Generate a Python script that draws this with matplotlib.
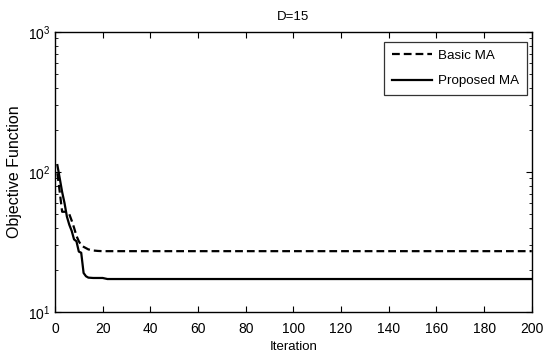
import matplotlib
matplotlib.use("Agg")
import matplotlib.pyplot as plt
import numpy as np

# Convergence curves (iteration, objective value) at the visible breakpoints
basic_iter = [1, 2, 3, 4, 5, 6, 7, 8, 9, 10, 11, 12, 13, 14, 16, 18, 20, 200]
basic_obj = [98, 72, 52, 52, 52, 50, 45, 40, 35, 32, 30, 29.2, 28.6, 28.0, 27.5, 27.3, 27.2, 27.2]

proposed_iter = [1, 2, 3, 4, 5, 6, 7, 8, 9, 10, 11, 12, 13, 14, 16, 20, 22, 200]
proposed_obj = [112, 90, 72, 60, 48, 42, 38, 33, 32, 27, 26.5, 19, 18, 17.6, 17.5, 17.5, 17.2, 17.2]

xticks = [0, 20, 40, 60, 80, 100, 120, 140, 160, 180, 200]

plt.rcParams["font.family"] = ["Liberation Sans", "DejaVu Sans"]
plt.rcParams["mathtext.fontset"] = "custom"
plt.rcParams["mathtext.rm"] = "Liberation Sans"

fig = plt.figure(figsize=(5.46, 3.63), dpi=100)
ax = fig.add_axes([0.1007, 0.1405, 0.8733, 0.7713])

ax.plot(basic_iter, basic_obj, "k--", linewidth=1.6, dashes=(3.5, 1.8), label="Basic MA")
ax.plot(proposed_iter, proposed_obj, "k-", linewidth=1.6, label="Proposed MA")

ax.set_yscale("log")
ax.set_xlim(0, 200)
ax.set_ylim(10, 1000)
ax.set_xticks(xticks)
ax.tick_params(which="both", direction="in", top=True, right=True, labelsize=10)
ax.tick_params(which="major", length=4)
ax.tick_params(which="minor", length=2.5)
ax.tick_params(axis="x", which="major", pad=7)
for s in ax.spines.values():
    s.set_linewidth(1.0)

ax.set_title("D=15", fontsize=9.5, pad=9)
ax.set_xlabel("Iteration", fontsize=9.5, labelpad=4)
ax.set_ylabel("Objective Function", fontsize=11.5, labelpad=4)

leg = ax.legend(loc="upper right", bbox_to_anchor=(0.9895, 0.964), borderaxespad=0,
                fontsize=9.6, frameon=True, fancybox=False, edgecolor="black",
                handlelength=3.0, handletextpad=0.5, borderpad=0.55, labelspacing=1.0)
leg.get_frame().set_linewidth(0.9)

fig.savefig("out.png", dpi=100)
